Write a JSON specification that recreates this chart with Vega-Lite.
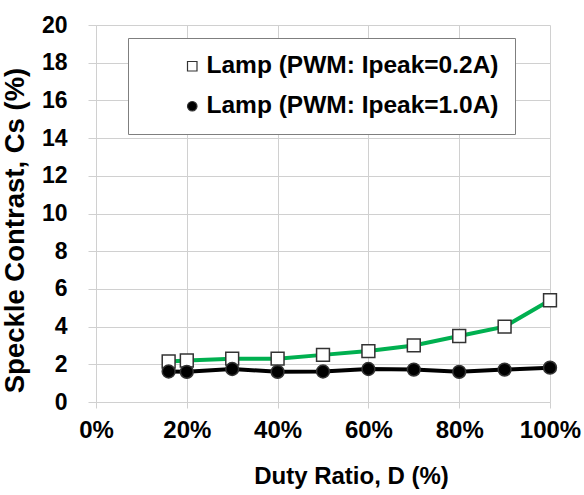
{
  "$schema": "https://vega.github.io/schema/vega-lite/v6.json",
  "autosize": {"type": "none"},
  "padding": {"left": 96, "top": 25, "right": 34, "bottom": 93},
  "width": 454,
  "height": 377,
  "background": "white",
  "config": {
    "font": "Liberation Sans",
    "view": {"stroke": null},
    "axis": {
      "gridColor": "#d0d0d0",
      "gridWidth": 1,
      "domainColor": "#d0d0d0",
      "tickColor": "#d0d0d0",
      "labelFont": "Liberation Sans",
      "labelFontWeight": "bold",
      "labelColor": "black",
      "labelFlush": false,
      "labelOverlap": false,
      "titleFont": "Liberation Sans",
      "titleFontWeight": "bold",
      "titleColor": "black"
    }
  },
  "data": {
    "values": [
      {"series": "Lamp (PWM: Ipeak=0.2A)", "duty": 16, "cs": 2.15},
      {"series": "Lamp (PWM: Ipeak=0.2A)", "duty": 20, "cs": 2.2},
      {"series": "Lamp (PWM: Ipeak=0.2A)", "duty": 30, "cs": 2.3},
      {"series": "Lamp (PWM: Ipeak=0.2A)", "duty": 40, "cs": 2.3},
      {"series": "Lamp (PWM: Ipeak=0.2A)", "duty": 50, "cs": 2.5},
      {"series": "Lamp (PWM: Ipeak=0.2A)", "duty": 60, "cs": 2.7},
      {"series": "Lamp (PWM: Ipeak=0.2A)", "duty": 70, "cs": 3.0},
      {"series": "Lamp (PWM: Ipeak=0.2A)", "duty": 80, "cs": 3.5},
      {"series": "Lamp (PWM: Ipeak=0.2A)", "duty": 90, "cs": 4.0},
      {"series": "Lamp (PWM: Ipeak=0.2A)", "duty": 100, "cs": 5.4},
      {"series": "Lamp (PWM: Ipeak=1.0A)", "duty": 16, "cs": 1.62},
      {"series": "Lamp (PWM: Ipeak=1.0A)", "duty": 20, "cs": 1.6},
      {"series": "Lamp (PWM: Ipeak=1.0A)", "duty": 30, "cs": 1.75},
      {"series": "Lamp (PWM: Ipeak=1.0A)", "duty": 40, "cs": 1.6},
      {"series": "Lamp (PWM: Ipeak=1.0A)", "duty": 50, "cs": 1.62},
      {"series": "Lamp (PWM: Ipeak=1.0A)", "duty": 60, "cs": 1.75},
      {"series": "Lamp (PWM: Ipeak=1.0A)", "duty": 70, "cs": 1.72},
      {"series": "Lamp (PWM: Ipeak=1.0A)", "duty": 80, "cs": 1.6},
      {"series": "Lamp (PWM: Ipeak=1.0A)", "duty": 90, "cs": 1.72},
      {"series": "Lamp (PWM: Ipeak=1.0A)", "duty": 100, "cs": 1.82}
    ]
  },
  "encoding": {
    "x": {
      "field": "duty",
      "type": "quantitative",
      "scale": {"domain": [0, 100], "nice": false},
      "axis": {
        "values": [0, 20, 40, 60, 80, 100],
        "labelExpr": "datum.value + '%'",
        "labelFontSize": 24,
        "labelPadding": 10,
        "tickSize": 6,
        "title": "Duty Ratio, D (%)",
        "titleFontSize": 24,
        "titleX": 255,
        "titleY": 81,
        "titleAnchor": null,
        "titleAlign": "center",
        "titleBaseline": "alphabetic"
      }
    },
    "y": {
      "field": "cs",
      "type": "quantitative",
      "scale": {"domain": [0, 20], "nice": false},
      "axis": {
        "values": [0, 2, 4, 6, 8, 10, 12, 14, 16, 18, 20],
        "labelFontSize": 23,
        "labelPadding": 21,
        "tickSize": 8,
        "title": "Speckle Contrast, Cs (%)",
        "titleFontSize": 27.5,
        "titleX": -73,
        "titleY": 205,
        "titleAnchor": null,
        "titleAlign": "center",
        "titleBaseline": "alphabetic",
        "titleAngle": -90
      }
    }
  },
  "layer": [
    {
      "mark": {"type": "line", "strokeWidth": 4},
      "encoding": {
        "color": {
          "field": "series",
          "type": "nominal",
          "scale": {"range": ["#00b050", "#000000"]},
          "legend": null
        }
      }
    },
    {
      "mark": {"type": "point", "filled": true, "size": 165, "stroke": "#333333", "strokeWidth": 1.5, "opacity": 1},
      "encoding": {
        "shape": {
          "field": "series",
          "type": "nominal",
          "scale": {"range": ["square", "circle"]},
          "legend": {
            "title": null,
            "orient": "none",
            "legendX": 32,
            "legendY": 13,
            "strokeColor": "#7f7f7f",
            "fillColor": "white",
            "padding": 16,
            "symbolOffset": 36,
            "symbolSize": 90,
            "symbolStrokeWidth": 1.2,
            "labelFontSize": 24.5,
            "labelFont": "Liberation Sans",
            "labelFontWeight": "bold",
            "labelColor": "black",
            "labelLimit": 400,
            "labelOffset": 2,
            "rowPadding": 15
          }
        },
        "fill": {
          "field": "series",
          "type": "nominal",
          "scale": {"range": ["#ffffff", "#000000"]},
          "legend": null
        }
      }
    }
  ]
}
